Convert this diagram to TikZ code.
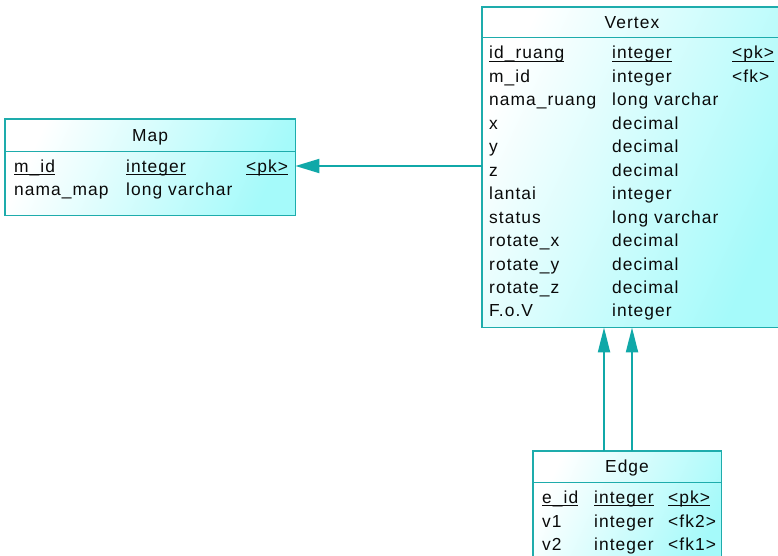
\documentclass[tikz,border=0pt]{standalone}
\usepackage{fontspec}
\setmainfont{Liberation Sans}[LetterSpace=6]
\usetikzlibrary{arrows.meta}

\definecolor{tblborder}{RGB}{30,172,172}
\definecolor{tbllink}{RGB}{16,168,168}
\definecolor{tblfill}{RGB}{165,250,250}
\definecolor{tbltext}{RGB}{10,10,10}

% underlined key column entry
\newcommand\keyul[1]{\setbox0\hbox{#1}\rlap{\rule[-2.6pt]{\wd0}{0.9pt}}\box0}

\tikzset{
  table/.style={rectangle, inner sep=0pt,
    left color=white, right color=tblfill, shading angle=65},
  frame/.style={draw=tblborder, line width=1.3pt},
  cell/.style={anchor=base west, inner sep=0pt, text=tbltext,
    font=\fontsize{17.4}{18}\selectfont},
  title/.style={anchor=base, inner sep=0pt, text=tbltext,
    font=\fontsize{17.4}{18}\selectfont},
  link/.style={draw=tbllink, line width=2pt,
    -{Triangle[length=24pt,width=14pt]}},
  vlink/.style={draw=tbllink, line width=2pt,
    -{Triangle[length=25pt,width=12pt]}},
}

\begin{document}
\begin{tikzpicture}[x=1pt,y=-1pt]
\useasboundingbox (0,0) rectangle (778,556);
\clip (0,0) rectangle (778,556);

% ---- Map ----
\node[table, minimum width=290pt, minimum height=96pt, anchor=north west]
  (map) at (5,119) {};
\draw[frame] (map.north west) rectangle (map.south east);
\draw[frame] (5,151.5) -- (295,151.5);
\node[title] (mapT) at (150,141.5) {Map};
\node[cell] (m1a) at (14,172) {\keyul{m\_id}};
\node[cell] (m1b) at (126,172) {\keyul{integer}};
\node[cell] (m1c) at (246,172) {\keyul{<pk>}};
\node[cell] (m2a) at (14,195.5) {nama\_map};
\node[cell] (m2b) at (126,195.5) {long varchar};

% ---- Vertex ----
\node[table, minimum width=296pt, minimum height=320pt, anchor=north west]
  (vertex) at (482,7) {};
\draw[frame] (vertex.north west) rectangle (vertex.south east);
\draw[frame] (482,37.5) -- (778,37.5);
\node[title] (vT) at (632,28.5) {Vertex};
\foreach \i/\a/\b/\c in {
  0/{\keyul{id\_ruang}}/{\keyul{integer}}/{\keyul{<pk>}},
  1/m\_id/integer/<fk>,
  2/nama\_ruang/long varchar/,
  3/x/decimal/,
  4/y/decimal/,
  5/z/decimal/,
  6/lantai/integer/,
  7/status/long varchar/,
  8/rotate\_x/decimal/,
  9/rotate\_y/decimal/,
  10/rotate\_z/decimal/,
  11/F.o.V/integer/}{
  \node[cell] (va\i) at (489,59+23.45*\i) {\a};
  \node[cell] (vb\i) at (612,59+23.45*\i) {\b};
  \node[cell] (vc\i) at (732,59+23.45*\i) {\c};
}

% ---- Edge ----
\node[table, minimum width=188pt, minimum height=120pt, anchor=north west]
  (edge) at (533,451) {};
\draw[frame] (edge.north west) rectangle (edge.south east);
\draw[frame] (533,482.5) -- (721,482.5);
\node[title] (eT) at (627,472.5) {Edge};
\node[cell] (e1a) at (542,503.5) {\keyul{e\_id}};
\node[cell] (e1b) at (594,503.5) {\keyul{integer}};
\node[cell] (e1c) at (668,503.5) {\keyul{<pk>}};
\node[cell] (e2a) at (542,527.2) {v1};
\node[cell] (e2b) at (594,527.2) {integer};
\node[cell] (e2c) at (668,527.2) {<fk2>};
\node[cell] (e3a) at (542,550.8) {v2};
\node[cell] (e3b) at (594,550.8) {integer};
\node[cell] (e3c) at (668,550.8) {<fk1>};

% ---- references ----
\coordinate (vref) at (vertex.west |- 0,166);
\coordinate (mref) at (map.east |- 0,166);
\draw[link] (vref) -- (mref);

\coordinate (e1) at (edge.north -| 604,0);
\coordinate (v1) at (vertex.south -| 604,0);
\coordinate (e2) at (edge.north -| 632,0);
\coordinate (v2) at (vertex.south -| 632,0);
\draw[vlink] (e1) -- (v1);
\draw[vlink] (e2) -- (v2);
\end{tikzpicture}
\end{document}
